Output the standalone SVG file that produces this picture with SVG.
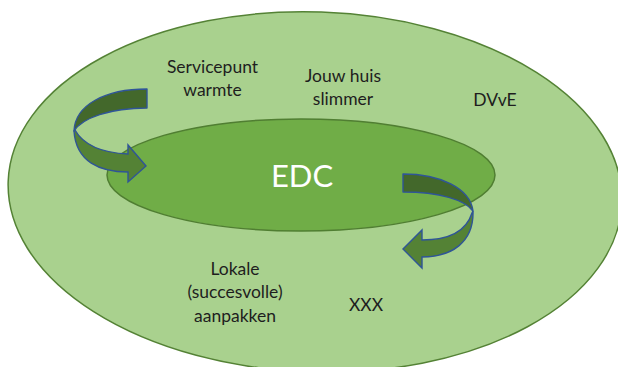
<svg xmlns="http://www.w3.org/2000/svg" width="618" height="367" viewBox="0 0 618 367">
  <style>
    .zone { fill: #a9d18e; stroke: #548235; stroke-width: 1.5; }
    .core { fill: #70ad47; stroke: #507e32; stroke-width: 1.5; }
    .label { font-family: Lato, "Liberation Sans", sans-serif; font-size: 17.5px; fill: #1e1e1e; text-anchor: middle; }
    .title { font-family: Lato, "Liberation Sans", sans-serif; font-size: 31px; fill: #ffffff; text-anchor: middle; }
    .band-back { fill: #43682b; stroke: #2f5597; stroke-width: 1.4; stroke-linejoin: round; }
    .band-front { fill: #548235; stroke: #2f5597; stroke-width: 1.4; stroke-linejoin: miter; }
  </style>

  <!-- outer field -->
  <g id="field">
    <ellipse class="zone" cx="315" cy="192" rx="307" ry="180" transform="rotate(2 315 192)"/>
  </g>

  <!-- central EDC -->
  <g id="edc">
    <ellipse class="core" cx="301" cy="175" rx="194" ry="56"/>
    <text class="title" x="302" y="186.5">EDC</text>
  </g>

  <g id="servicepunt-warmte">
    <text class="label" x="212.5" y="73">Servicepunt</text>
    <text class="label" x="212.5" y="96">warmte</text>
  </g>

  <g id="jouw-huis-slimmer">
    <text class="label" x="343" y="81.5">Jouw huis</text>
    <text class="label" x="343" y="104.5">slimmer</text>
  </g>

  <g id="dvve">
    <text class="label" x="495" y="105.5">DVvE</text>
  </g>

  <g id="lokale-aanpakken">
    <text class="label" x="235" y="275">Lokale</text>
    <text class="label" x="235" y="298.3">(succesvolle)</text>
    <text class="label" x="235" y="321.7">aanpakken</text>
  </g>

  <g id="xxx">
    <text class="label" x="366" y="311">XXX</text>
  </g>

  <!-- curved arrows -->
  <g id="connectors">
    <!-- inflow arrow, upper left -->
    <path class="band-back" d="M147,89 C105,89 75,105 74,131 C82,118 110,108 147,108 Z"/>
    <path class="band-front" d="M75,130 C84,146 105,153 128,154 L128,145 L146,166 L128,182 L128,172 C100,172 76,162 74,131 Z"/>
    <!-- outflow arrow, lower right -->
    <path class="band-back" d="M403,174 C440,174 470,188 473,211 C465,200 440,192 403,192 Z"/>
    <path class="band-front" d="M472,213 C466,232 448,240 422,240 L422,230 L403,249 L422,268 L422,257 C452,257 474,242 473,211 Z"/>
  </g>
</svg>
